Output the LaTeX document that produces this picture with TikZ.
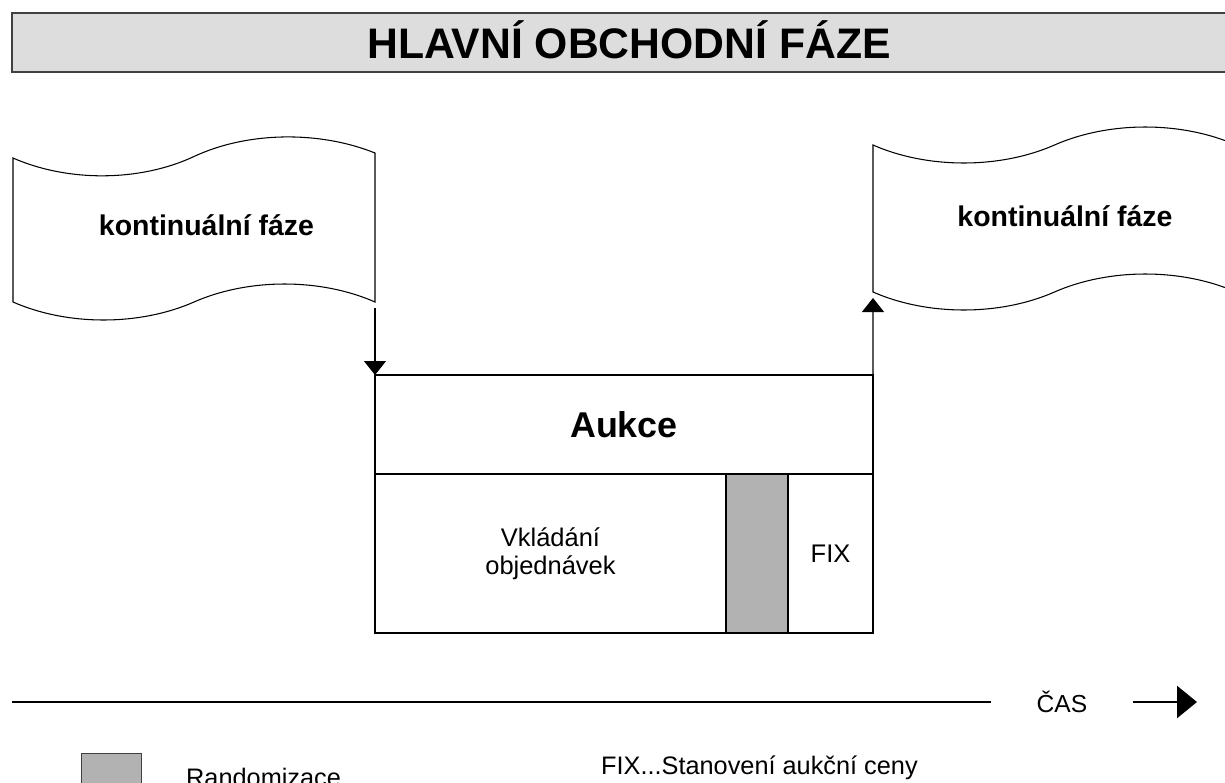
\documentclass[tikz,border=0pt]{standalone}
\usepackage{fontspec}
\setmainfont{Liberation Sans}
\usetikzlibrary{positioning,arrows.meta}
\definecolor{titlegray}{HTML}{DDDDDD}
\definecolor{randgray}{HTML}{B2B2B2}
\definecolor{framegray}{HTML}{404040}
\tikzset{
    flag/.style={draw, line width=0.6pt},
    flagtext/.style={anchor=base, font=\bfseries\fontsize{16.2}{19}\selectfont},
    cell/.style={draw, line width=0.7pt, inner sep=0pt, outer sep=0pt, minimum height=3.18cm},
    celltext/.style={align=center, font=\fontsize{14.5}{16}\selectfont},
    flow/.style={line width=0.6pt, -{Triangle[width=0.44cm,length=0.28cm]}},
    legendtext/.style={anchor=base west, font=\fontsize{14.4}{17}\selectfont},
}

\begin{document}
\begin{tikzpicture}
                \useasboundingbox (0,0) rectangle (24.5,-15.64);
                \draw[fill=titlegray, draw=framegray, line width=0.9pt] (0.24,-0.26) rectangle (25,-1.44);
                \node[anchor=base, font=\bfseries\fontsize{24.3}{29}\selectfont] (title) at (12.58,-1.16) {HLAVNÍ OBCHODNÍ FÁZE};
                \draw[flag] (0.26,-3.16) .. controls (1.35,-3.64) and (2.79,-3.64) .. (3.88,-3.13) .. controls (4.97,-2.62) and (6.41,-2.62) .. (7.50,-3.06) -- (7.50,-6.04) .. controls (6.41,-5.56) and (4.97,-5.56) .. (3.88,-6.04) .. controls (2.79,-6.52) and (1.35,-6.52) .. (0.26,-6.04) -- cycle;
                \node[flagtext] (kontL) at (4.13,-4.70) {kontinuální fáze};
                \draw[flag] (17.46,-2.90) .. controls (18.55,-3.38) and (20.00,-3.38) .. (21.09,-2.90) .. controls (22.18,-2.42) and (23.63,-2.42) .. (24.72,-2.90) -- (24.72,-5.84) .. controls (23.63,-5.36) and (22.18,-5.36) .. (21.09,-5.84) .. controls (20.00,-6.32) and (18.55,-6.32) .. (17.46,-5.84) -- cycle;
                \node[flagtext] (kontR) at (21.30,-4.52) {kontinuální fáze};
                \coordinate (outL) at (7.50,-6.16);
                \coordinate (inR) at (17.46,-5.96);
                \node[cell, minimum width=9.96cm, minimum height=1.98cm, anchor=north west, font=\bfseries\fontsize{20.4}{24}\selectfont] (aukce) at (7.50,-7.50) {Aukce};
                \node[cell, celltext, minimum width=7.02cm, below right=0pt and 0pt of aukce.south west] (vklad) {Vkládání\\objednávek};
                \node[cell, fill=randgray, line width=1.3pt, minimum width=1.24cm, right=0pt of vklad] (rand) {};
                \node[cell, celltext, minimum width=1.70cm, right=0pt of rand] (fix) {FIX};
                \draw[line width=1.3pt] (aukce.south west) -- (aukce.south east);
                \draw[flow] (outL) -- (aukce.north west);
                \draw[flow] (aukce.north east) -- (inR);
                \coordinate (t0) at (0.24,-14.04);
                \coordinate (t1) at (23.94,-14.04);
                \node[inner xsep=0.9cm, font=\fontsize{14}{17}\selectfont] (cas) at (21.24,-14.04) {ČAS};
                \draw[line width=1.5pt] (t0) -- (cas);
                \draw[line width=1.5pt, -{Triangle[width=0.64cm,length=0.40cm]}] (cas) -- (t1);
                \node[draw=framegray, fill=randgray, line width=0.7pt, minimum size=1.2cm, inner sep=0pt, anchor=north west] (legend) at (1.62,-15.06) {};
                \node[legendtext] (randtext) at (3.60,-15.72) {Randomizace};
                \node[legendtext] (fixtext) at (11.90,-15.48) {FIX...Stanovení aukční ceny};
            \end{tikzpicture}
\end{document}
